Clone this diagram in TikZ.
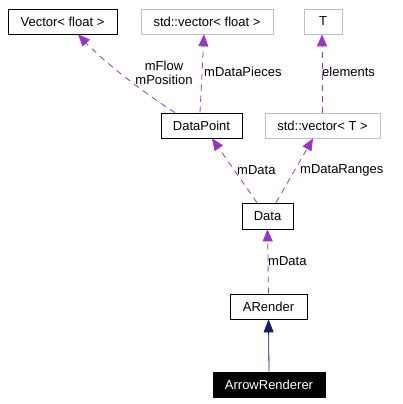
\documentclass[tikz,border=0pt]{standalone}
\usepackage{fontspec}
\setmainfont{Liberation Sans}
\usetikzlibrary{arrows.meta}
\definecolor{edgepurple}{HTML}{9A32CD}
\definecolor{edgenavy}{HTML}{191970}
\definecolor{boxgray}{HTML}{BFBFBF}
\tikzset{
  cls/.style={draw=black, line width=0.8pt, minimum height=25pt, inner sep=0pt, font=\fontsize{13}{15}\selectfont},
  grayc/.style={cls, draw=boxgray},
  selc/.style={cls, fill=black, text=white},
  usage/.style={draw=edgepurple, line width=0.8pt, dash pattern=on 6pt off 5pt, -{Triangle[length=12pt,width=10pt,fill=edgepurple]}},
  inherit/.style={draw=edgenavy, line width=0.8pt, -{Triangle[length=13pt,width=10pt,fill=edgenavy]}},
  lbl/.style={font=\fontsize{13}{14}\selectfont, inner sep=0pt, align=center}
}
\begin{document}
\begin{tikzpicture}[x=1pt,y=-1pt]
\useasboundingbox (0,0) rectangle (402,404);
\node[cls, minimum width=109pt] (vec) at (62.5,21.5) {Vector< float >};
\node[grayc, minimum width=132pt] (svf) at (207,21.5) {std::vector< float >};
\node[grayc, minimum width=38pt] (t) at (323,21.5) {T};
\node[cls, minimum width=81pt] (dp) at (201.5,125.5) {DataPoint};
\node[grayc, minimum width=115pt] (svt) at (322.5,125.5) {std::vector< T >};
\node[cls, minimum width=51pt, minimum height=26pt] (data) at (267.5,216) {Data};
\node[cls, minimum width=77pt] (ar) at (268.5,306.5) {ARender};
\node[selc, minimum width=112pt] (arr) at (269,384.5) {ArrowRenderer};

\draw[usage] ([xshift=-26.5pt]dp.north) .. controls (155,100) and (110,68) .. ([xshift=15.5pt]vec.south);
\draw[usage] ([xshift=-1.5pt]dp.north) -- ([xshift=-3pt]svf.south);
\draw[usage] ([xshift=-0.5pt]svt.north) -- ([xshift=-1pt]t.south);
\draw[usage] ([xshift=-10.5pt]data.north) -- ([xshift=10.5pt]dp.south);
\draw[usage] ([xshift=8.5pt]data.north) -- ([xshift=-9.5pt]svt.south);
\draw[usage] (ar.north) -- (data.south);
\draw[inherit] (arr.north) -- (ar.south);

\node[lbl] (l1) at (164,73) {mFlow\\mPosition};
\node[lbl, anchor=west] (l2) at (204,72) {mDataPieces};
\node[lbl, anchor=west] (l3) at (322,72) {elements};
\node[lbl, anchor=west] (l4) at (237,170) {mData};
\node[lbl, anchor=west] (l5) at (300,170) {mDataRanges};
\node[lbl, anchor=west] (l6) at (268,261) {mData};
\end{tikzpicture}
\end{document}
